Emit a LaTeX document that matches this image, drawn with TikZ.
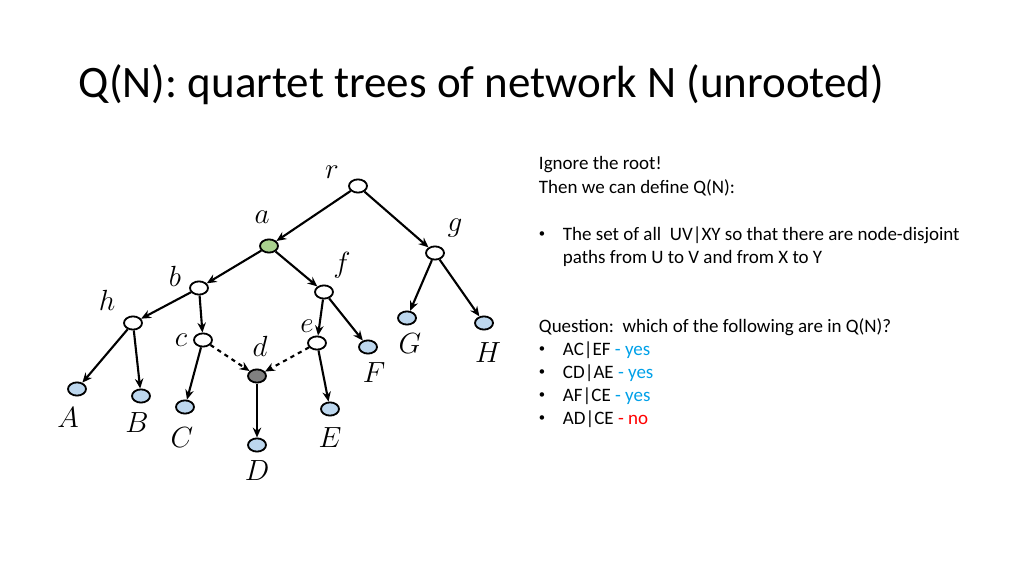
\documentclass[tikz,border=0pt]{standalone}
\usepackage{fontspec}
\setmainfont{Carlito}
\usetikzlibrary{shapes.geometric,arrows.meta}
\definecolor{leafblue}{HTML}{BDD7EE}
\definecolor{agreen}{HTML}{A9D18E}
\definecolor{dgrey}{HTML}{808080}
\definecolor{yesblue}{HTML}{00A0E8}
\tikzset{
  vert/.style={draw,line width=1.3pt,ellipse,minimum width=0.45cm,minimum height=0.33cm,inner sep=0pt,fill=white},
  leaf/.style={vert,fill=leafblue},
  lbl/.style={font=\fontsize{21}{24}\selectfont},
  edge/.style={-{Stealth[length=7pt,width=6pt]},line width=1.5pt},
  txt/.style={anchor=west,font=\fontsize{13.5}{16}\selectfont}
}
\begin{document}
\begin{tikzpicture}[x=0.025cm,y=-0.025cm]
\useasboundingbox (0,0) rectangle (1024,576);
\node[anchor=west,font=\fontsize{32}{36}\selectfont] (title) at (74,85) {Q(N): quartet trees of network N (unrooted)};

% tree nodes
\node[vert] (r) at (358,186) {};
\node[vert,fill=agreen] (a) at (269,246) {};
\node[vert] (g) at (435,253) {};
\node[vert] (b) at (199,288) {};
\node[vert] (f) at (324,292) {};
\node[vert] (h) at (133,323) {};
\node[vert] (c) at (203,340) {};
\node[vert] (e) at (317,343) {};
\node[vert,fill=dgrey] (d) at (257,376) {};
\node[leaf] (G) at (407,318) {};
\node[leaf] (H) at (484,323) {};
\node[leaf] (F) at (368,347) {};
\node[leaf] (A) at (77,389) {};
\node[leaf] (B) at (141,396) {};
\node[leaf] (C) at (185,407) {};
\node[leaf] (E) at (330,409) {};
\node[leaf] (D) at (257,445) {};

% labels
\node[lbl] (lr) at (332,172) {$r$};
\node[lbl] (la) at (262,217) {$a$};
\node[lbl] (lg) at (455,228) {$g$};
\node[lbl] (lb) at (175,276) {$b$};
\node[lbl] (lf) at (342,265) {$f$};
\node[lbl] (lh) at (107,300) {$h$};
\node[lbl] (lc) at (181,340) {$c$};
\node[lbl] (le) at (307,326) {$e$};
\node[lbl] (ld) at (260,346) {$d$};
\node[lbl] (lG) at (410,344) {$G$};
\node[lbl] (lH) at (488,353) {$H$};
\node[lbl] (lF) at (374,373) {$F$};
\node[lbl] (lA) at (68,418) {$A$};
\node[lbl] (lB) at (137,423) {$B$};
\node[lbl] (lC) at (182,438) {$C$};
\node[lbl] (lE) at (330,438) {$E$};
\node[lbl] (lD) at (257,471) {$D$};

% edges
\draw[edge] (r) -- (a);
\draw[edge] (r) -- (g);
\draw[edge] (a) -- (b);
\draw[edge] (a) -- (f);
\draw[edge] (b) -- (h);
\draw[edge] (b) -- (c);
\draw[edge] (f) -- (e);
\draw[edge] (f) -- (F);
\draw[edge] (g) -- (G);
\draw[edge] (g) -- (H);
\draw[edge] (h) -- (A);
\draw[edge] (h) -- (B);
\draw[edge] (c) -- (C);
\draw[edge,dashed] (c) -- (d);
\draw[edge,dashed] (e) -- (d);
\draw[edge] (e) -- (E);
\draw[edge] (d) -- (D);

% text
\node[txt] (t1) at (534,165) {Ignore the root!};
\node[txt] (t2) at (534,188) {Then we can define Q(N):};
\node[txt,font=\fontsize{9}{10}\selectfont] (t3) at (534,235) {•};
\node[txt] (t4) at (558,235) {The set of all\ \ UV|XY so that there are node-disjoint};
\node[txt] (t5) at (558,258) {paths from U to V and from X to Y};
\node[txt] (q0) at (534,327) {Question:\ \ which of the following are in Q(N)?};
\foreach \y/\p/\c/\w [count=\i] in {350/AC|EF/yesblue/yes,373/CD|AE/yesblue/yes,396/AF|CE/yesblue/yes,419/AD|CE/red/no}{
  \node[txt,font=\fontsize{9}{10}\selectfont] (qb\i) at (534,\y) {•};
  \node[txt] (q\i) at (558,\y) {\p\ \textcolor{\c}{- \w}};
}
\end{tikzpicture}
\end{document}
